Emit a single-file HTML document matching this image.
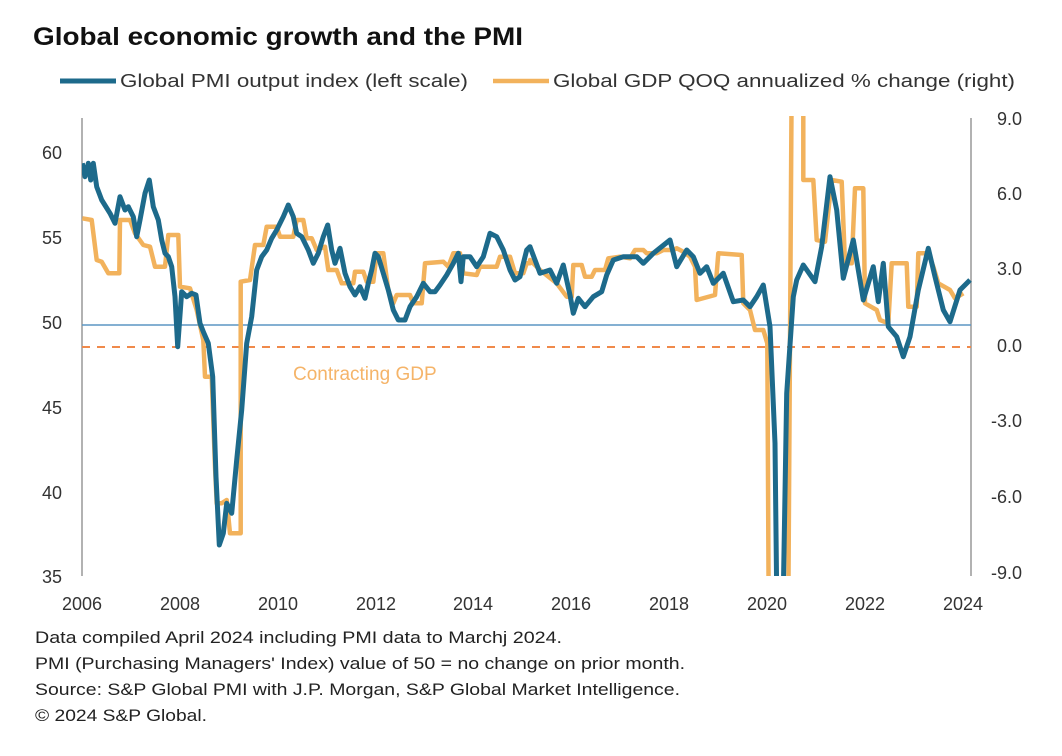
<!DOCTYPE html>
<html><head><meta charset="utf-8"><style>
html,body{margin:0;padding:0;background:#fff;}
svg{display:block;font-family:"Liberation Sans",Arial,sans-serif;}
</style></head><body>
<svg id="s" width="1062" height="756" viewBox="0 0 1062 756" xmlns="http://www.w3.org/2000/svg">
<defs><clipPath id="c"><rect x="82" y="116" width="893" height="460"/></clipPath></defs>
<text x="33" y="45" font-size="25" font-weight="bold" fill="#111" textLength="490" lengthAdjust="spacingAndGlyphs">Global economic growth and the PMI</text>
<line x1="60" y1="81" x2="116" y2="81" stroke="#1d6a8b" stroke-width="5"/>
<text x="120" y="87" font-size="18.5" fill="#333" textLength="348" lengthAdjust="spacingAndGlyphs">Global PMI output index (left scale)</text>
<line x1="493" y1="81" x2="549" y2="81" stroke="#f2b25c" stroke-width="4.5"/>
<text x="553" y="87" font-size="18.5" fill="#333" textLength="462" lengthAdjust="spacingAndGlyphs">Global GDP QOQ annualized % change (right)</text>
<line x1="82" y1="118" x2="82" y2="576" stroke="#999" stroke-width="1.5"/>
<line x1="971" y1="118" x2="971" y2="576" stroke="#999" stroke-width="1.5"/>
<g font-size="18" fill="#333">
<text x="62" y="159" text-anchor="end">60</text>
<text x="62" y="244" text-anchor="end">55</text>
<text x="62" y="329" text-anchor="end">50</text>
<text x="62" y="414" text-anchor="end">45</text>
<text x="62" y="499" text-anchor="end">40</text>
<text x="62" y="583" text-anchor="end">35</text>
<text x="1022" y="125" text-anchor="end">9.0</text>
<text x="1022" y="200" text-anchor="end">6.0</text>
<text x="1022" y="275" text-anchor="end">3.0</text>
<text x="1022" y="352" text-anchor="end">0.0</text>
<text x="1022" y="427" text-anchor="end">-3.0</text>
<text x="1022" y="503" text-anchor="end">-6.0</text>
<text x="1022" y="579" text-anchor="end">-9.0</text>
<text x="82" y="610" text-anchor="middle">2006</text>
<text x="180" y="610" text-anchor="middle">2008</text>
<text x="278" y="610" text-anchor="middle">2010</text>
<text x="376" y="610" text-anchor="middle">2012</text>
<text x="473" y="610" text-anchor="middle">2014</text>
<text x="571" y="610" text-anchor="middle">2016</text>
<text x="669" y="610" text-anchor="middle">2018</text>
<text x="767" y="610" text-anchor="middle">2020</text>
<text x="865" y="610" text-anchor="middle">2022</text>
<text x="963" y="610" text-anchor="middle">2024</text>
</g>
<line x1="82" y1="325" x2="971" y2="325" stroke="#5b96c4" stroke-width="1.5"/>
<line x1="82" y1="347" x2="971" y2="347" stroke="#f08a4b" stroke-width="2" stroke-dasharray="8 7"/>
<text x="293" y="380" font-size="19" fill="#f5b469">Contracting GDP</text>
<g clip-path="url(#c)" fill="none" stroke-linejoin="round">
<polyline id="o" stroke="#f2b25c" stroke-width="4.5" points=""/>
<polyline id="b" stroke="#1d6a8b" stroke-width="5" points=""/>
</g>
<g font-size="16.5" fill="#222">
<text x="35" y="643" textLength="527" lengthAdjust="spacingAndGlyphs">Data compiled April 2024 including PMI data to Marchj 2024.</text>
<text x="35" y="669" textLength="650" lengthAdjust="spacingAndGlyphs">PMI (Purchasing Managers' Index) value of 50 = no change on prior month.</text>
<text x="35" y="695" textLength="645" lengthAdjust="spacingAndGlyphs">Source: S&amp;P Global PMI with J.P. Morgan, S&amp;P Global Market Intelligence.</text>
<text x="35" y="721" textLength="172" lengthAdjust="spacingAndGlyphs">© 2024 S&amp;P Global.</text>
</g>
</svg>
<script>
var b1=[157,160,165,200,175,160,182,210,190,160,200,230,215,270,240,310,255,340,270,260,285,300,295,290,310,320,320,380,330,330,345,250,358,210,370,290,385,330,395,390,405,430,415,440,425,470,435,560,443,710,455,545,470,560,485,550,498,555,510,640,520,665,535,700,548,800,558,1100,568,1305,580,1270,590,1180,605,1210,620,1050,635,900,650,700,665,620,680,480,695,440,710,420,725,385,740,360,760,320,775,285,790,320,800,370,815,380,835,420,850,460,865,430,880,380,893,345,905,420,915,460,930,415,945,490,960,530,975,555,990,530,1005,565,1015,520,1025,480,1035,430,1045,440,1060,490,1075,540,1090,600,1105,630,1125,630,1140,590,1160,560,1180,520,1200,545,1215,545,1230,525,1250,495,1270,460,1285,430,1293,515,1300,440,1320,440,1340,470,1360,440,1380,370,1400,380,1420,420,1440,480,1455,510,1470,500,1490,420,1500,410];
var b2=[0,410,30,490,60,480,80,520,100,465,120,555,130,610,145,565,165,590,190,560,215,545,230,495,250,450,280,440,320,440,340,460,370,430,420,390,440,470,470,420,490,440,510,490,530,470,550,520,580,490,610,575,640,570,660,590,680,560,700,525,720,650,735,1000,740,1450,760,1450,770,850,790,560,800,510,820,465,855,515,875,410,900,200,920,300,940,505,970,390,1000,570,1030,470,1045,575,1060,460,1075,650,1100,680,1120,740,1140,680,1165,540,1195,415,1215,500,1240,600,1260,635,1290,540,1320,510];
var o1=[157,325,185,330,200,450,215,455,235,490,268,490,270,330,300,330,315,370,340,405,360,410,375,470,405,470,415,375,445,375,450,530,480,535,500,600,520,690,525,800,545,800,555,1070,560,1180,575,1180,590,1170,600,1270,632,1270,632,515,660,510,675,405,700,405,710,350,740,350,750,380,790,380,800,330,820,330,830,385,845,385,860,420,885,410,895,480,920,480,935,520,970,520,975,485,1000,485,1010,515,1030,515,1040,430,1060,430,1075,540,1090,580,1100,555,1140,555,1150,580,1175,580,1185,460,1240,455,1255,470,1270,430,1290,430,1300,490,1340,495,1350,470,1400,470,1410,440,1440,440,1455,490,1480,490,1490,460,1500,460];
var o2=[0,450,30,480,80,520,110,560,125,560,130,465,155,465,165,500,185,500,195,480,225,480,235,445,270,440,300,445,315,420,340,420,350,430,380,430,400,420,430,420,440,415,460,425,480,440,495,470,500,570,555,555,565,430,635,435,640,580,660,600,675,660,700,660,712,700,716,1500,775,1500,785,-100,820,-100,820,210,850,210,860,390,885,395,905,210,935,215,945,460,965,460,975,235,1000,235,1005,580,1040,600,1050,630,1075,640,1085,460,1130,460,1135,590,1160,590,1165,430,1195,430,1210,470,1225,520,1260,540,1275,565,1300,550];
function conv(a,ox){var r=[];for(var i=0;i<a.length;i+=2){r.push((ox+a[i]/3).toFixed(1)+','+(110+a[i+1]/3).toFixed(1));}return r;}
document.getElementById('b').setAttribute('points',conv(b1,30).concat(conv(b2,530)).join(' '));
document.getElementById('o').setAttribute('points',conv(o1,30).concat(conv(o2,530)).join(' '));
</script>
</body></html>
